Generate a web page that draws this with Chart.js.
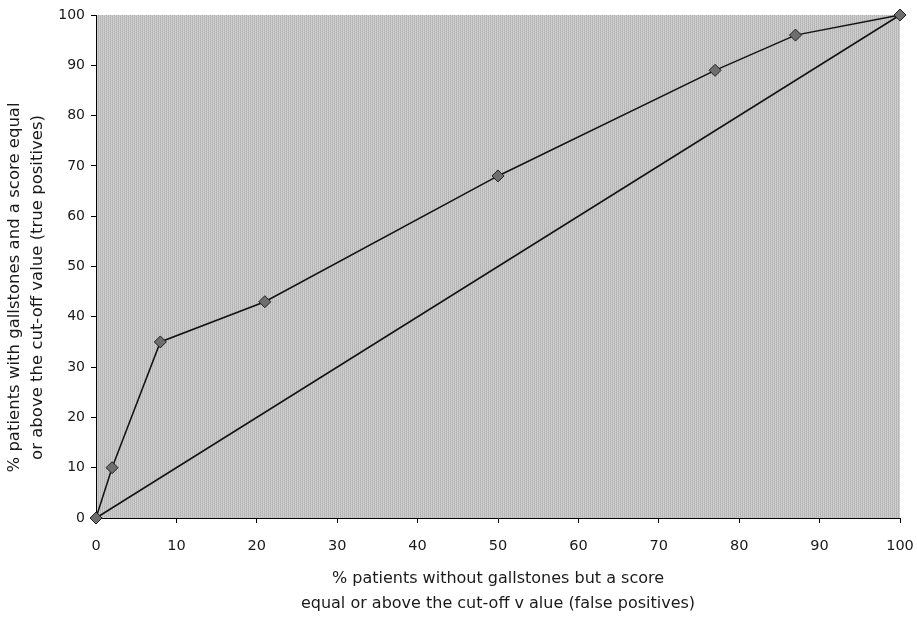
<!DOCTYPE html>
<html>
<head>
<meta charset="utf-8">
<script src="https://cdn.jsdelivr.net/npm/chart.js@4.4.0/dist/chart.umd.min.js"></script>
<style>
html,body{margin:0;padding:0;background:#fff;}
#wrap{width:917px;height:619px;}
</style>
</head>
<body>
<div id="wrap"><canvas id="c" width="917" height="619"></canvas></div>
<script>
const falsePositives = [0, 2, 8, 21, 50, 77, 87, 100];
const truePositives  = [0, 10, 35, 43, 68, 89, 96, 100];
const diagonalX = [0, 100];
const diagonalY = [0, 100];
const tickValues = [0, 10, 20, 30, 40, 50, 60, 70, 80, 90, 100];
const xTitle = ['% patients without gallstones but a score', 'equal or above the cut-off v alue (false positives)'];
const yTitle = ['% patients with gallstones and a score equal', 'or above the cut-off value (true positives)'];

const rocPoints = falsePositives.map((x, i) => ({x: x, y: truePositives[i]}));
const diagPoints = diagonalX.map((x, i) => ({x: x, y: diagonalY[i]}));
const pad = '\u00a0'.repeat(8);
const yTitleShifted = yTitle.map(t => t + pad);

function makePattern(ctx) {
  const p = document.createElement('canvas');
  p.width = 4; p.height = 4;
  const pc = p.getContext('2d');
  const cols = ['#b0b0b0', '#d2d2d2', '#bdbdbd', '#c9c9c9'];
  for (let i = 0; i < 4; i++) for (let j = 0; j < 4; j++) {
    pc.fillStyle = cols[(i + 2 * j) % 4];
    pc.fillRect(i, j, 1, 1);
  }
  return ctx.createPattern(p, 'repeat');
}

const bgPlugin = {
  id: 'bg',
  beforeDraw(chart) {
    const {ctx, chartArea: a} = chart;
    ctx.save();
    ctx.fillStyle = makePattern(ctx);
    ctx.fillRect(a.left, a.top, a.right - a.left, a.bottom - a.top);
    ctx.restore();
  }
};

const font = 'DejaVu Sans';
new Chart(document.getElementById('c'), {
  type: 'scatter',
  data: {
    datasets: [
      {
        data: rocPoints, showLine: true, borderColor: '#111', borderWidth: 1.5,
        pointStyle: 'rectRot', pointRadius: 6, pointBackgroundColor: '#6e6e6e',
        pointBorderColor: '#222', pointBorderWidth: 1, tension: 0, clip: false
      },
      {
        data: diagPoints, showLine: true, borderColor: '#111', borderWidth: 1.5,
        pointRadius: 0, tension: 0, clip: false
      }
    ]
  },
  options: {
    responsive: false,
    animation: false,
    devicePixelRatio: 1,
    layout: {padding: {left: 0, right: 17, top: 15, bottom: 0}},
    plugins: {legend: {display: false}, tooltip: {enabled: false}},
    scales: {
      x: {
        type: 'linear', min: 0, max: 100,
        afterBuildTicks(s) { s.ticks = tickValues.map(v => ({value: v})); },
        afterFit(s) { s.height = 101; s.paddingLeft = 0; s.paddingRight = 0; },
        grid: {drawOnChartArea: false, drawTicks: true, tickLength: 5, color: '#000'},
        border: {display: true, color: '#000', width: 1},
        ticks: {color: '#1a1a1a', font: {family: font, size: 14.5}, padding: 15, maxRotation: 0},
        title: {display: true, text: xTitle, color: '#1a1a1a', font: {family: font, size: 16, lineHeight: 1.56}, padding: {top: 0, bottom: 3}}
      },
      y: {
        type: 'linear', min: 0, max: 100,
        afterBuildTicks(s) { s.ticks = tickValues.map(v => ({value: v})); },
        afterFit(s) { s.width = 96; s.paddingTop = 0; s.paddingBottom = 0; },
        grid: {drawOnChartArea: false, drawTicks: true, tickLength: 5, color: '#000'},
        border: {display: true, color: '#000', width: 1},
        ticks: {color: '#1a1a1a', font: {family: font, size: 14}, padding: 6},
        title: {display: true, text: yTitleShifted, color: '#1a1a1a', font: {family: font, size: 16.5, lineHeight: 1.4}, padding: {top: 3.5, bottom: 0}}
      }
    }
  },
  plugins: [bgPlugin]
});
</script>
</body>
</html>
